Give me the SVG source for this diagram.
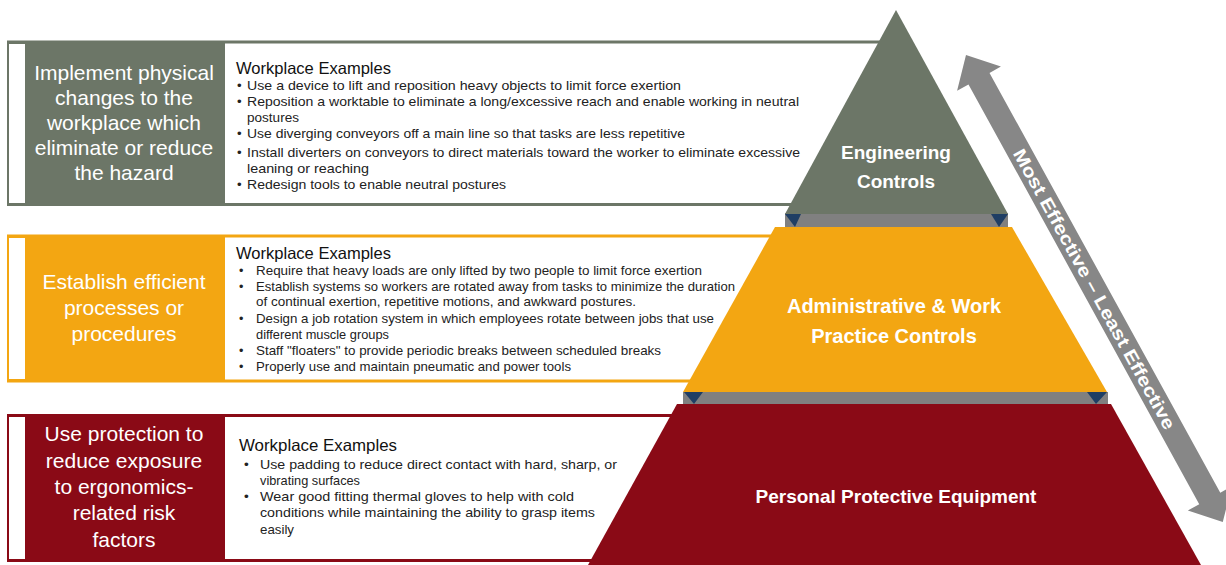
<svg xmlns="http://www.w3.org/2000/svg" width="1226" height="565" viewBox="0 0 1226 565">
<style>
.lbl{font-family:"Liberation Sans",Arial,sans-serif;font-size:21px;fill:#ffffff;text-anchor:middle}
.hd{font-family:"Liberation Sans",Arial,sans-serif;font-size:16.5px;fill:#111111}
.bd{font-family:"Liberation Sans",Arial,sans-serif;font-size:13.2px;fill:#222222}
.tier{font-family:"Liberation Sans",Arial,sans-serif;font-size:19px;font-weight:bold;fill:#ffffff;text-anchor:middle}
.arr{font-family:"Liberation Sans",Arial,sans-serif;font-size:18px;font-weight:bold;fill:#ffffff;text-anchor:middle}
.olive{fill:#6c7667}
.orange{fill:#f3a612}
.red{fill:#8a0a16}
.band{fill:#808080}
.blue{fill:#1f3e64}
</style>

<g id="panel-engineering">
  <polygon points="7,42 878,42 790,205 7,205" fill="#ffffff"/>
  <rect x="7" y="42" width="218" height="163" class="olive"/>
  <rect x="9" y="44" width="16" height="159" fill="#ffffff"/>
  <line x1="7" y1="42" x2="880" y2="42" stroke="#6c7667" stroke-width="3"/>
  <line x1="7" y1="204.5" x2="795" y2="204.5" stroke="#6c7667" stroke-width="3"/>
  <text class="lbl" x="124" y="80">Implement physical</text>
  <text class="lbl" x="124" y="105">changes to the</text>
  <text class="lbl" x="124" y="130">workplace which</text>
  <text class="lbl" x="124" y="155">eliminate or reduce</text>
  <text class="lbl" x="124" y="180">the hazard</text>
  <text class="hd" x="236" y="74" textLength="155" lengthAdjust="spacingAndGlyphs">Workplace Examples</text>
  <g class="bd">
    <text x="237" y="90">•</text><text x="247" y="90" textLength="434" lengthAdjust="spacingAndGlyphs">Use a device to lift and reposition heavy objects to limit force exertion</text>
    <text x="237" y="106">•</text><text x="247" y="106" textLength="552" lengthAdjust="spacingAndGlyphs">Reposition a worktable to eliminate a long/excessive reach and enable working in neutral</text>
    <text x="247" y="122" textLength="52" lengthAdjust="spacingAndGlyphs">postures</text>
    <text x="237" y="138">•</text><text x="247" y="138" textLength="438" lengthAdjust="spacingAndGlyphs">Use diverging conveyors off a main line so that tasks are less repetitive</text>
    <text x="237" y="157">•</text><text x="247" y="157" textLength="553" lengthAdjust="spacingAndGlyphs">Install diverters on conveyors to direct materials toward the worker to eliminate excessive</text>
    <text x="247" y="173" textLength="122" lengthAdjust="spacingAndGlyphs">leaning or reaching</text>
    <text x="237" y="189">•</text><text x="247" y="189" textLength="259" lengthAdjust="spacingAndGlyphs">Redesign tools to enable neutral postures</text>
  </g>
</g>

<g id="panel-administrative">
  <polygon points="7,236 772,236 690,381 7,381" fill="#ffffff"/>
  <rect x="7" y="236" width="218" height="145" class="orange"/>
  <rect x="9" y="238" width="16" height="141" fill="#ffffff"/>
  <line x1="7" y1="236" x2="775" y2="236" stroke="#f3a612" stroke-width="3"/>
  <line x1="7" y1="381" x2="695" y2="381" stroke="#f3a612" stroke-width="3"/>
  <text class="lbl" x="124" y="289">Establish efficient</text>
  <text class="lbl" x="124" y="315">processes or</text>
  <text class="lbl" x="124" y="341">procedures</text>
  <text class="hd" x="236" y="259" textLength="155" lengthAdjust="spacingAndGlyphs">Workplace Examples</text>
  <g class="bd" style="font-size:12.6px">
    <text x="239" y="275">•</text><text x="256" y="275" textLength="446" lengthAdjust="spacingAndGlyphs">Require that heavy loads are only lifted by two people to limit force exertion</text>
    <text x="239" y="291">•</text><text x="256" y="291" textLength="479" lengthAdjust="spacingAndGlyphs">Establish systems so workers are rotated away from tasks to minimize the duration</text>
    <text x="256" y="306" textLength="380" lengthAdjust="spacingAndGlyphs">of continual exertion, repetitive motions, and awkward postures.</text>
    <text x="239" y="323">•</text><text x="256" y="323" textLength="458" lengthAdjust="spacingAndGlyphs">Design a job rotation system in which employees rotate between jobs that use</text>
    <text x="256" y="339" textLength="133" lengthAdjust="spacingAndGlyphs">different muscle groups</text>
    <text x="239" y="355">•</text><text x="256" y="355" textLength="405" lengthAdjust="spacingAndGlyphs">Staff "floaters" to provide periodic breaks between scheduled breaks</text>
    <text x="239" y="371">•</text><text x="256" y="371" textLength="315" lengthAdjust="spacingAndGlyphs">Properly use and maintain pneumatic and power tools</text>
  </g>
</g>

<g id="panel-ppe">
  <polygon points="7,415 670,415 592,561 7,561" fill="#ffffff"/>
  <rect x="7" y="415" width="218" height="146" class="red"/>
  <rect x="9" y="417" width="16" height="142" fill="#ffffff"/>
  <line x1="7" y1="415.5" x2="675" y2="415.5" stroke="#8a0a16" stroke-width="3"/>
  <line x1="7" y1="560.5" x2="595" y2="560.5" stroke="#8a0a16" stroke-width="3"/>
  <text class="lbl" x="124" y="441">Use protection to</text>
  <text class="lbl" x="124" y="468">reduce exposure</text>
  <text class="lbl" x="124" y="494">to ergonomics-</text>
  <text class="lbl" x="124" y="520">related risk</text>
  <text class="lbl" x="124" y="547">factors</text>
  <text class="hd" x="239" y="451" textLength="158" lengthAdjust="spacingAndGlyphs">Workplace Examples</text>
  <g class="bd" style="font-size:13.6px">
    <text x="244" y="469">•</text><text x="260" y="469" textLength="357" lengthAdjust="spacingAndGlyphs">Use padding to reduce direct contact with hard, sharp, or</text>
    <text x="260" y="485" textLength="100" lengthAdjust="spacingAndGlyphs">vibrating surfaces</text>
    <text x="244" y="501">•</text><text x="260" y="501" textLength="314" lengthAdjust="spacingAndGlyphs">Wear good fitting thermal gloves to help with cold</text>
    <text x="260" y="517" textLength="335" lengthAdjust="spacingAndGlyphs">conditions while maintaining the ability to grasp items</text>
    <text x="260" y="534" textLength="34" lengthAdjust="spacingAndGlyphs">easily</text>
  </g>
</g>

<g id="tier-engineering">
  <rect x="785" y="213" width="223" height="14" class="band"/>
  <polygon points="785,214 801,214 795,227" class="blue"/>
  <polygon points="991,214 1008,214 999,227" class="blue"/>
  <polygon points="896,10 1008,214 785,214" class="olive"/>
  <text class="tier" x="896" y="159">Engineering</text>
  <text class="tier" x="896" y="188">Controls</text>
</g>

<g id="tier-administrative">
  <rect x="683" y="392" width="425" height="12" class="band"/>
  <polygon points="684,392 703,392 694,404" class="blue"/>
  <polygon points="1087,392 1107,392 1096,404" class="blue"/>
  <polygon points="775,227 1012,227 1107,392 683,392" class="orange"/>
  <text class="tier" x="894" y="313" style="font-size:20px">Administrative &amp; Work</text>
  <text class="tier" x="894" y="343" style="font-size:20px">Practice Controls</text>
</g>

<g id="tier-ppe">
  <polygon points="677,404 1111,404 1201,565 588,565" class="red"/>
  <text class="tier" x="896" y="503">Personal Protective Equipment</text>
</g>

<g id="connectors">
  <g transform="translate(966,55) rotate(61.2)">
    <polygon points="0,0 27,-25 27,-12 506,-12 506,-25 533,0 506,25 506,12 27,12 27,25" fill="#878787"/>
    <text class="arr" x="267" y="6.5" textLength="317" lengthAdjust="spacingAndGlyphs">Most Effective – Least Effective</text>
  </g>
</g>
</svg>
